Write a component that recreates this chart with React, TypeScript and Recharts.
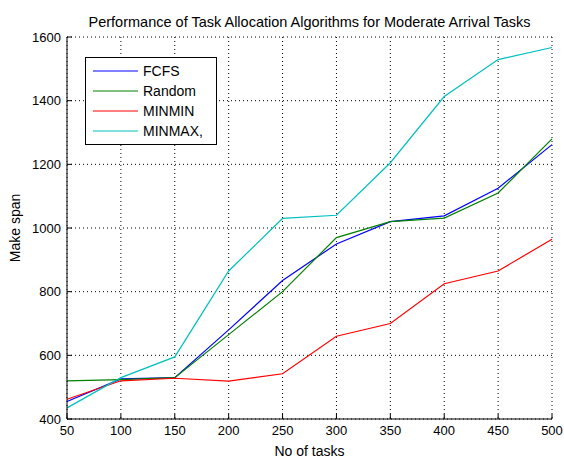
import React from "react";
import {
  LineChart,
  Line,
  XAxis,
  YAxis,
  CartesianGrid,
  Label,
} from "recharts";

const tasks = [50, 100, 150, 200, 250, 300, 350, 400, 450, 500];
const fcfs = [455, 526, 530, 680, 835, 950, 1020, 1038, 1125, 1262];
const random = [520, 524, 530, 665, 800, 970, 1020, 1031, 1110, 1280];
const minmin = [462, 520, 528, 519, 542, 660, 700, 825, 865, 965];
const minmax = [435, 530, 595, 865, 1030, 1040, 1205, 1413, 1529, 1567];

const xTicks = [50, 100, 150, 200, 250, 300, 350, 400, 450, 500];
const yTicks = [400, 600, 800, 1000, 1200, 1400, 1600];

const series = [
  { key: "fcfs", name: "FCFS", color: "#0000ff" },
  { key: "random", name: "Random", color: "#008000" },
  { key: "minmin", name: "MINMIN", color: "#ff0000" },
  { key: "minmax", name: "MINMAX,", color: "#00bfbf" },
];

const data = tasks.map((t, i) => ({
  tasks: t,
  fcfs: fcfs[i],
  random: random[i],
  minmin: minmin[i],
  minmax: minmax[i],
}));

const font = "'Liberation Sans', Arial, sans-serif";
const tickStyle = { fontSize: 13, fill: "#000", fontFamily: font };
const labelStyle = { fontSize: 14, fill: "#000", fontFamily: font };

function LegendBox() {
  return (
    <div
      style={{
        position: "absolute",
        left: 85,
        top: 57,
        width: 123,
        border: "1px solid #000",
        background: "#fff",
        padding: "3px 0 3px 7px",
        fontFamily: font,
        fontSize: 14,
        color: "#000",
      }}
    >
      {series.map((s) => (
        <div key={s.key} style={{ display: "flex", alignItems: "center", height: 20 }}>
          <svg width={45} height={4} style={{ marginRight: 5 }}>
            <line x1={0} y1={2} x2={45} y2={2} stroke={s.color} strokeWidth={1.2} />
          </svg>
          <span>{s.name}</span>
        </div>
      ))}
    </div>
  );
}

export default function App() {
  return (
    <div style={{ position: "absolute", left: 0, top: 0, width: 564, height: 458, background: "#fff" }}>
      <div
        style={{
          position: "absolute",
          left: 67,
          width: 485,
          top: 14,
          textAlign: "center",
          fontFamily: font,
          fontSize: 14.5,
          color: "#000",
          whiteSpace: "nowrap",
        }}
      >
        Performance of Task Allocation Algorithms for Moderate Arrival Tasks
      </div>
      <LineChart
        width={564}
        height={458}
        data={data}
        margin={{ top: 37, right: 12, bottom: 0, left: 7 }}
      >
        <CartesianGrid stroke="#000" strokeDasharray="1 3" />
        <XAxis
          dataKey="tasks"
          type="number"
          domain={[50, 500]}
          ticks={xTicks}
          height={39}
          stroke="#000"
          tickSize={-5}
          tickMargin={12}
          tick={tickStyle}
          interval={0}
        >
          <Label value="No of tasks" position="insideBottom" offset={2} style={labelStyle} />
        </XAxis>
        <XAxis
          xAxisId="top"
          orientation="top"
          type="number"
          domain={[50, 500]}
          ticks={xTicks}
          height={0}
          stroke="#000"
          tickSize={-5}
          tick={false}
        />
        <YAxis
          type="number"
          domain={[400, 1600]}
          ticks={yTicks}
          width={60}
          stroke="#000"
          tickSize={-5}
          tickMargin={11}
          tick={tickStyle}
          interval={0}
        >
          <Label
            content={() => (
              <text
                x={15}
                y={228}
                transform="rotate(-90, 15, 228)"
                textAnchor="middle"
                dominantBaseline="central"
                style={labelStyle}
              >
                Make span
              </text>
            )}
          />
        </YAxis>
        <YAxis
          yAxisId="right"
          orientation="right"
          type="number"
          domain={[400, 1600]}
          ticks={yTicks}
          width={0}
          stroke="#000"
          tickSize={-5}
          tick={false}
        />
        {series.map((s) => (
          <Line
            key={s.key}
            type="linear"
            dataKey={s.key}
            name={s.name}
            stroke={s.color}
            strokeWidth={1.2}
            dot={false}
            isAnimationActive={false}
          />
        ))}
      </LineChart>
      <LegendBox />
    </div>
  );
}
